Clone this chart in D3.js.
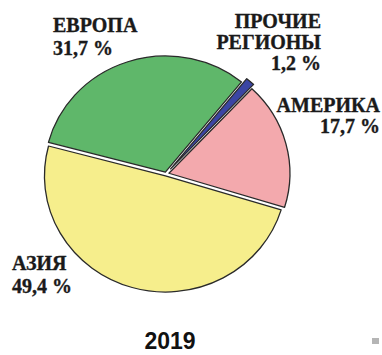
<!DOCTYPE html>
<html><head><meta charset="utf-8">
<script src="https://cdn.jsdelivr.net/npm/d3@7"></script>
<style>body{margin:0;background:#fff}svg{display:block}</style>
</head><body>
<svg id="c" width="382" height="355"></svg>
<script>
const categories = ["ПРОЧИЕ РЕГИОНЫ", "АМЕРИКА", "АЗИЯ", "ЕВРОПА"];
const values = [1.2, 17.7, 49.4, 31.7];
const valueLabels = ["1,2 %", "17,7 %", "49,4 %", "31,7 %"];
const colors = ["#3b45a3", "#f3a9ad", "#f6ee8c", "#5fb76a"];
const explode = [7, 3, 2, 2];
const year = "2019";

const svg = d3.select("#c");
const cx = 166, cy = 174, r = 121, sy = 0.96;
const a0 = 39 * Math.PI / 180;
const pie = d3.pie().sort(null).startAngle(a0).endAngle(a0 + 2 * Math.PI);
const arcs = pie(values);
const arc = d3.arc().innerRadius(0).outerRadius(r);

const g = svg.append("g").attr("transform", `translate(${cx},${cy}) scale(1,${sy})`);
g.selectAll("path").data(arcs).join("path")
  .attr("d", arc)
  .attr("transform", (d, i) => {
    const m = (d.startAngle + d.endAngle) / 2;
    return `translate(${explode[i] * Math.sin(m)},${-explode[i] * Math.cos(m)})`;
  })
  .attr("fill", (d, i) => colors[i])
  .attr("stroke", "#2a2a2a")
  .attr("stroke-width", 1.3)
  .attr("stroke-linejoin", "round");

const font = "Liberation Serif, Times New Roman, serif";
const labels = [
  {lines: ["ЕВРОПА", valueLabels[3]], x: 53, y: 32, anchor: "start", dy: 23},
  {lines: ["ПРОЧИЕ", "РЕГИОНЫ", valueLabels[0]], x: 321, y: 28, anchor: "end", dy: 21},
  {lines: ["АМЕРИКА", valueLabels[1]], x: 380, y: 112, anchor: "end", dy: 21},
  {lines: ["АЗИЯ", valueLabels[2]], x: 12, y: 270, anchor: "start", dy: 23}
];
labels.forEach(L => {
  const t = svg.append("text")
    .attr("font-family", font).attr("font-weight", "bold").attr("font-size", 20)
    .attr("fill", "#1a1a1a").attr("stroke", "#1a1a1a").attr("stroke-width", 0.35)
    .attr("text-anchor", L.anchor);
  L.lines.forEach((s, i) => t.append("tspan").attr("x", L.x).attr("y", L.y + i * L.dy).text(s));
});

svg.append("text").attr("x", 170).attr("y", 349).attr("text-anchor", "middle")
  .attr("font-family", "Liberation Sans, Arial, sans-serif").attr("font-weight", "bold")
  .attr("font-size", 23).attr("fill", "#111").text(year);

svg.append("rect").attr("x", 372).attr("y", 338).attr("width", 7).attr("height", 6).attr("fill", "#b5b5b5");
</script>
</body></html>
